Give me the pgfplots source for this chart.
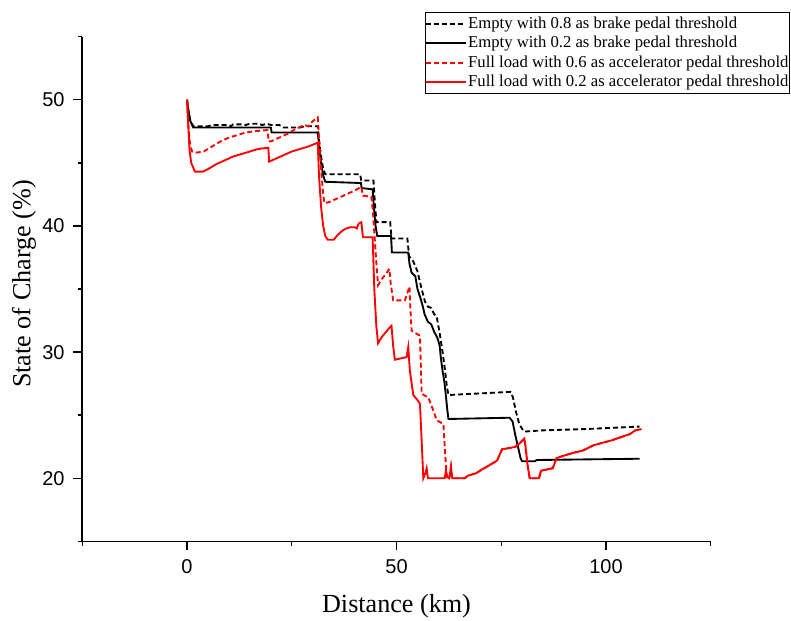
\documentclass[border=0pt]{standalone}
\usepackage{fontspec}
\setmainfont{Liberation Serif}
\newfontfamily\arial{Liberation Sans}
\usepackage{pgfplots}
\pgfplotsset{compat=1.18}
\begin{document}
\begin{tikzpicture}
\begin{axis}[
  name=ax,
  width=471.3pt, height=378.5pt, scale only axis,
  xmin=-25, xmax=125, ymin=15, ymax=55,
  axis x line*=bottom, axis y line*=left,
  axis line style={line width=1.2pt},
  xtick={0,50,100}, minor xtick={-25,25,75,125},
  ytick={20,30,40,50}, minor ytick={15,25,35,45,55},
  tick align=outside,
  major tick length=6.75pt, minor tick length=3.5pt,
  every tick/.style={line width=1.1pt, black},
  /pgf/number format/assume math mode=true,
  ticklabel style={font=\arial\fontsize{15}{18}\selectfont},
  xticklabel style={yshift=-3.5pt},
  yticklabel style={xshift=-3pt},
  xlabel={Distance (km)}, ylabel={State of Charge (\%)},
  every axis x label/.style={at={(axis description cs:0.5,-0.128)}, anchor=center, font=\fontsize{19.6}{23}\selectfont},
  every axis y label/.style={at={(axis description cs:-0.0928,0.51)}, rotate=90, anchor=center, font=\fontsize{19.6}{23}\selectfont},
  legend cell align=left,
  legend style={at={(rel axis cs:0.5454,1.0484)}, anchor=north west, draw=black, line width=0.7pt,
    font=\fontsize{12.5}{15}\selectfont, inner xsep=0pt, inner ysep=1.2pt, row sep=0pt,
    nodes={inner sep=0.6pt, text height=10pt, text depth=3.3pt}},
  legend image code/.code={\draw[#1] (0pt,0pt) -- (30pt,0pt);},
]
% Empty 0.8 brake
\addplot[black, line width=1.4pt, dash pattern=on 3.75pt off 2.25pt] coordinates {
(0,50) (0.3,49.2) (0.8,48.3) (1.5,47.9) (5,47.9) (6,48.0) (10,48.0) (10.5,47.9) (11,48.05) (13,48.05) (14,48.0) (15,48.1) (17,48.1) (18,48.0) (19,48.1) (20,48.0) (22,48.0) (23,47.8) (27,47.8) (28,47.9) (31.2,47.9) (31.5,46.8) (32,45.5) (32.5,44.5) (33,44.1) (41.3,44.1) (41.6,43.6) (44.5,43.6) (44.8,42) (45.2,40.3) (48.5,40.3) (48.8,39.0) (52.6,39.0) (53.0,37.6) (54,37.2) (55,36.4) (56,35) (56.8,34) (57.5,33.6) (58.3,33.5) (59,33) (59.6,32.8) (60.3,31.5) (61,30) (61.6,28.5) (62,27.3) (62.4,26.6) (77.2,26.85) (77.8,26.4) (78.5,25.3) (79.3,24.3) (80.4,23.7) (85,23.8) (95,23.9) (108,24.1)
};
\addlegendentry{Empty with 0.8 as brake pedal threshold}
% Empty 0.2 brake
\addplot[black, line width=1.4pt] coordinates {
(0,50) (0.3,49.2) (0.8,48.3) (1.5,47.8) (20,47.8) (20.2,47.4) (31.2,47.4) (31.5,46.5) (32,45) (32.5,44) (33,43.5) (41.5,43.4) (41.7,43.0) (44.3,42.9) (44.6,41.5) (45.0,40) (45.4,39.2) (48.7,39.2) (48.9,37.9) (52.8,37.9) (53.1,37) (53.6,36.3) (54.5,36.0) (55,35) (55.7,34.3) (56.3,33.6) (56.7,33) (57.5,32.4) (58.3,32.2) (59,31.6) (59.8,31.1) (60.3,30.5) (60.6,29.5) (61,28.5) (61.4,27.7) (61.8,26.5) (62.1,25.5) (62.4,24.7) (77,24.8) (77.7,24.5) (78.3,23.5) (79,22.5) (79.6,21.6) (80,21.35) (83,21.35) (83.5,21.45) (108,21.55)
};
\addlegendentry{Empty with 0.2 as brake pedal threshold}
% Full load 0.6 accelerator
\addplot[red, line width=1.4pt, dash pattern=on 3.75pt off 2.25pt] coordinates {
(0,50) (0.3,48) (0.7,46.5) (1.2,45.9) (2,45.8) (4,45.9) (6,46.3) (8,46.7) (10,47.0) (12,47.2) (14,47.4) (16,47.5) (19.2,47.6) (19.5,46.7) (20,46.7) (22,47.0) (24,47.3) (26,47.7) (28,48.0) (29,47.9) (30,48.3) (31.2,48.6) (31.5,47) (32,44.5) (32.5,42.5) (32.8,41.8) (34,41.9) (36,42.2) (38,42.5) (40,42.8) (41.6,43.1) (42,42.4) (44,42.3) (44.4,41) (44.8,39) (45.2,37) (45.6,35.3) (46.5,35.8) (47.5,36.2) (48.3,36.6) (48.6,35.5) (49.2,34.1) (52,34.1) (52.7,34.8) (53.1,35.2) (53.3,33.5) (53.6,31.7) (55.6,31.3) (55.8,29) (56,26.7) (57.6,26.4) (58.3,25.8) (59.6,24.6) (61.2,24.3) (61.5,22.5) (62,20.1) (62.6,20.0) (63.0,20.9) (63.3,20.0) (66.3,20.0) (67,20.2) (68,20.3) (69,20.4) (70.4,20.7) (72,21.0) (73,21.2) (74,21.4) (74.8,22.0) (75.2,22.3) (77,22.4) (78.4,22.5) (79.5,22.8) (80.5,23.15) (80.8,22.5) (81.3,21) (81.8,20.0) (84,20.0) (84.5,20.6) (87.3,20.8) (88.2,21.6) (90,21.8) (92,22.0) (94.5,22.2) (96.9,22.6) (99,22.8) (101.3,23.0) (103,23.2) (105.7,23.5) (107,23.8) (108.5,23.9)
};
\addlegendentry{Full load with 0.6 as accelerator pedal threshold}
% Full load 0.2 accelerator
\addplot[red, line width=1.4pt] coordinates {
(0,50) (0.3,48) (0.6,46) (1.0,45) (1.9,44.3) (3.8,44.3) (5,44.5) (7,44.9) (9,45.2) (11,45.5) (13,45.7) (15,45.9) (17,46.1) (19.4,46.2) (19.6,45.1) (21,45.3) (23,45.6) (25,45.9) (27,46.1) (29,46.3) (31.2,46.6) (31.5,44) (32,41.5) (32.5,40) (33,39.2) (33.6,38.9) (35,38.9) (36,39.3) (37,39.6) (38,39.8) (39,39.9) (40,39.9) (40.5,39.8) (41,40.2) (41.6,40.3) (42,39.1) (44.3,39.1) (44.7,35) (45.2,32) (45.6,30.7) (46.5,31.2) (47.5,31.6) (48.5,32.0) (48.8,32.1) (49.2,30.5) (49.6,29.4) (51,29.5) (52.4,29.6) (52.8,30.4) (53.2,28.5) (54,26.6) (55,26.2) (55.6,25.9) (56,23) (56.4,20.0) (56.9,20.4) (57.2,20.8) (57.5,20.0) (61.5,20.0) (61.8,20.6) (62.1,20.1) (62.6,20.0) (63.0,20.9) (63.3,20.0) (66.3,20.0) (67,20.2) (68,20.3) (69,20.4) (70.4,20.7) (72,21.0) (73,21.2) (74,21.4) (74.8,22.0) (75.2,22.3) (77,22.4) (78.4,22.5) (79.5,22.8) (80.5,23.15) (80.8,22.5) (81.3,21) (81.8,20.0) (84,20.0) (84.5,20.6) (87.3,20.8) (88.2,21.6) (90,21.8) (92,22.0) (94.5,22.2) (96.9,22.6) (99,22.8) (101.3,23.0) (103,23.2) (105.7,23.5) (107,23.8) (108.5,23.9)
};
\addlegendentry{Full load with 0.2 as accelerator pedal threshold}
\end{axis}
\pgfresetboundingbox
\path ([xshift=-61.7pt,yshift=-59.7pt]ax.south west) rectangle ([xshift=60.2pt,yshift=27.5pt]ax.north east);
\end{tikzpicture}
\end{document}
